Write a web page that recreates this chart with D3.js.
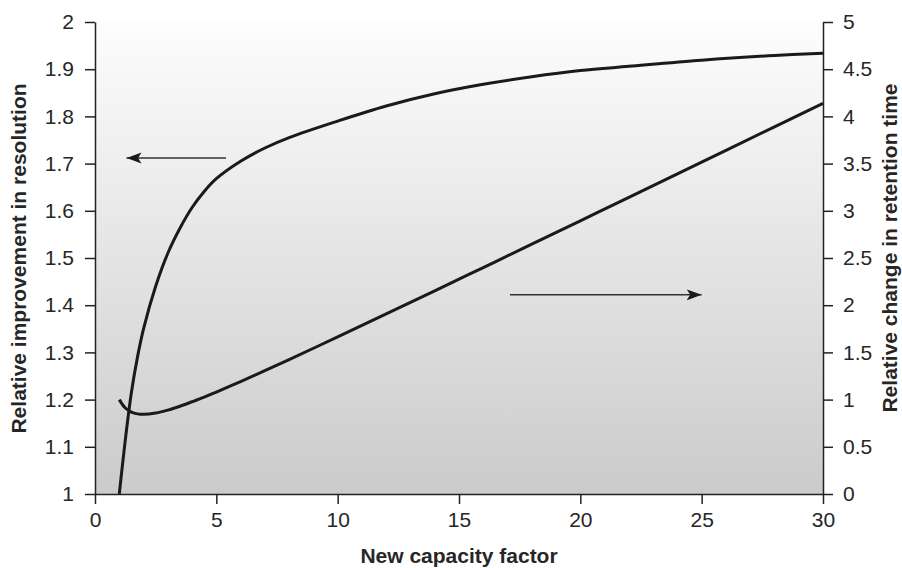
<!DOCTYPE html>
<html>
<head>
<meta charset="utf-8">
<script src="https://cdn.jsdelivr.net/npm/d3@7"></script>
<style>
  body { margin: 0; background: #fff; }
  text { font-family: "Liberation Sans", Arial, sans-serif; fill: #262626; }
  .axis path, .axis line { stroke: #222; stroke-width: 1.5px; }
  .axis text { font-size: 21px; }
  .title { font-size: 21px; font-weight: bold; }
</style>
</head>
<body>
<script>
// capacity factor (k) samples
var capacity = [1, 1.25, 1.5, 1.75, 2, 2.5, 3, 3.5, 4, 4.5, 5, 6, 7, 8, 10, 12, 14, 16, 18, 20, 22, 25, 28, 30];
// left axis: relative improvement in resolution
var resolution = [1.000, 1.115, 1.215, 1.290, 1.350, 1.440, 1.510, 1.563, 1.607, 1.641, 1.668, 1.705, 1.733, 1.755,
  1.790, 1.822, 1.848, 1.868, 1.884, 1.897, 1.906, 1.919, 1.929, 1.934];
// right axis: relative change in retention time
var retention = [1.000, 0.911, 0.868, 0.849, 0.844, 0.858, 0.889, 0.930, 0.977, 1.026, 1.080, 1.191, 1.306, 1.424,
  1.664, 1.907, 2.152, 2.399, 2.646, 2.894, 3.142, 3.515, 3.889, 4.138];

var xTicks = [0, 5, 10, 15, 20, 25, 30];
var leftTicks = [1, 1.1, 1.2, 1.3, 1.4, 1.5, 1.6, 1.7, 1.8, 1.9, 2];
var rightTicks = [0, 0.5, 1, 1.5, 2, 2.5, 3, 3.5, 4, 4.5, 5];

// annotation arrows (from -> to, in data units)
var leftArrow = { x0: 5.4, x1: 1.3, y: 1.712 };
var rightArrow = { x0: 17.1, x1: 25, y: 2.11 };

var margin = { top: 22, right: 79, bottom: 74, left: 95 },
  width = 902 - margin.left - margin.right,
  height = 568 - margin.top - margin.bottom;

var x = d3.scaleLinear().domain([0, 30]).range([0, width]);
var yL = d3.scaleLinear().domain([1, 2]).range([height, 0]);
var yR = d3.scaleLinear().domain([0, 5]).range([height, 0]);

var svg = d3.select("body").append("svg")
  .attr("width", 902)
  .attr("height", 568);

var defs = svg.append("defs");

var grad = defs.append("linearGradient")
  .attr("id", "bg")
  .attr("x1", 0).attr("y1", 0)
  .attr("x2", 0).attr("y2", 1);
grad.append("stop").attr("offset", "0%").attr("stop-color", "#fdfdfd");
grad.append("stop").attr("offset", "100%").attr("stop-color", "#cbcbcb");

defs.append("marker")
  .attr("id", "head")
  .attr("markerUnits", "userSpaceOnUse")
  .attr("viewBox", "0 -6 16 12")
  .attr("refX", 15)
  .attr("refY", 0)
  .attr("markerWidth", 16)
  .attr("markerHeight", 12)
  .attr("orient", "auto")
  .append("path")
  .attr("d", "M0,-5.5L15,0L0,5.5L3.5,0Z")
  .attr("fill", "#1a1a1a");

var g = svg.append("g")
  .attr("transform", "translate(" + margin.left + "," + margin.top + ")");

g.append("rect")
  .attr("width", width)
  .attr("height", height)
  .attr("fill", "url(#bg)");

var data = capacity.map(function(k, i) {
  return { k: k, res: resolution[i], ret: retention[i] };
});

var resLine = d3.line()
  .curve(d3.curveCatmullRom.alpha(0.5))
  .x(function(d) { return x(d.k); })
  .y(function(d) { return yL(d.res); });

var retLine = d3.line()
  .curve(d3.curveCatmullRom)
  .x(function(d) { return x(d.k); })
  .y(function(d) { return yR(d.ret); });

g.append("path")
  .attr("d", resLine(data))
  .attr("fill", "none")
  .attr("stroke", "#1a1a1a")
  .attr("stroke-width", 3);

g.append("path")
  .attr("d", retLine(data))
  .attr("fill", "none")
  .attr("stroke", "#1a1a1a")
  .attr("stroke-width", 3);

// arrows
g.append("line")
  .attr("x1", x(leftArrow.x0)).attr("x2", x(leftArrow.x1))
  .attr("y1", yL(leftArrow.y)).attr("y2", yL(leftArrow.y))
  .attr("stroke", "#333")
  .attr("stroke-width", 1.5)
  .attr("marker-end", "url(#head)");

g.append("line")
  .attr("x1", x(rightArrow.x0)).attr("x2", x(rightArrow.x1))
  .attr("y1", yR(rightArrow.y)).attr("y2", yR(rightArrow.y))
  .attr("stroke", "#333")
  .attr("stroke-width", 1.5)
  .attr("marker-end", "url(#head)");

// axes
var fmt = d3.format("~g");

g.append("g")
  .attr("class", "axis")
  .attr("transform", "translate(0," + height + ")")
  .call(d3.axisBottom(x).tickValues(xTicks).tickFormat(fmt)
    .tickSize(10).tickSizeOuter(0).tickPadding(8));

g.append("g")
  .attr("class", "axis")
  .call(d3.axisLeft(yL).tickValues(leftTicks).tickFormat(fmt)
    .tickSize(10).tickSizeOuter(0).tickPadding(11));

g.append("g")
  .attr("class", "axis")
  .attr("transform", "translate(" + width + ",0)")
  .call(d3.axisRight(yR).tickValues(rightTicks).tickFormat(fmt)
    .tickSize(10).tickSizeOuter(0).tickPadding(10));

g.selectAll(".axis .domain").attr("stroke", "#222");

// titles
svg.append("text")
  .attr("class", "title")
  .attr("text-anchor", "middle")
  .attr("transform", "translate(26,258.5) rotate(-90)")
  .text("Relative improvement in resolution");

svg.append("text")
  .attr("class", "title")
  .attr("text-anchor", "middle")
  .attr("transform", "translate(897,248) rotate(-90)")
  .text("Relative change in retention time");

svg.append("text")
  .attr("class", "title")
  .attr("text-anchor", "middle")
  .attr("x", margin.left + width / 2)
  .attr("y", 563)
  .text("New capacity factor");
</script>
</body>
</html>
